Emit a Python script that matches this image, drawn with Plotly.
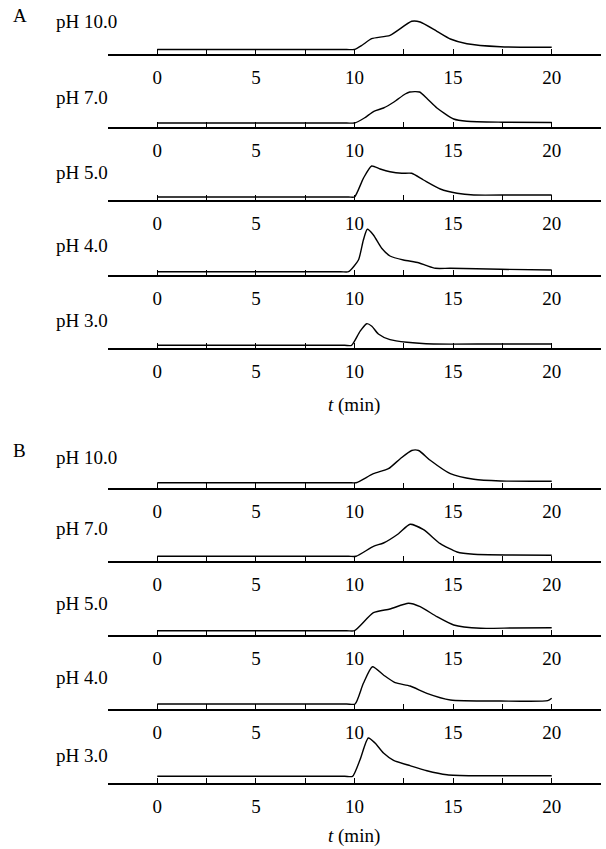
import plotly.graph_objects as go

# ---------------- data (time in min, signal in arbitrary units) ----------------
ph_labels = ["pH 10.0", "pH 7.0", "pH 5.0", "pH 4.0", "pH 3.0"]
tick_values = [-2.5, 0, 2.5, 5, 7.5, 10, 12.5, 15, 17.5, 20, 22.5]
tick_labels = ["", "0", "", "5", "", "10", "", "15", "", "20", ""]

A_ph10_t = [0, 5, 9.6, 10, 10.4, 10.87, 11.8, 12.9, 13.33, 14.18, 14.86, 15.7, 17.4, 20]
A_ph10_y = [4.5, 4.5, 4.5, 4.5, 9, 15.3, 18.7, 32.7, 32, 22.7, 15, 10.3, 7.3, 6.7]
A_ph7_t = [0, 5, 9.6, 10, 10.5, 10.98, 11.47, 12.0, 12.57, 12.8, 13.3, 13.7, 14.18, 15.03, 15.7, 17.5, 20]
A_ph7_y = [4, 4, 4, 4, 9, 15.7, 19, 25, 33, 35, 35, 28, 19, 8, 5.7, 4.8, 4.5]
A_ph5_t = [0, 5, 9.7, 10, 10.45, 10.87, 11.3, 11.8, 12.4, 12.9, 13.5, 14.35, 15.2, 16.05, 18, 20]
A_ph5_y = [3, 3, 3, 3, 21.7, 34, 31, 28.3, 26.7, 26.7, 20, 11, 6.7, 5, 5, 5]
A_ph4_t = [0, 5, 9.3, 9.7, 10.2, 10.45, 10.65, 10.96, 11.38, 11.8, 12.48, 13.25, 13.67, 14.1, 14.86, 17.4, 20]
A_ph4_y = [3.3, 3.3, 3.3, 3.3, 15, 35, 45.7, 40, 26.7, 19, 15, 12.3, 9.3, 6.7, 6.7, 5.7, 5]
A_ph3_t = [0, 5, 9.5, 9.85, 10.28, 10.62, 10.88, 11.21, 11.8, 12.66, 14, 17, 20]
A_ph3_y = [2.7, 2.7, 2.7, 2.7, 16.7, 24.3, 21.7, 14, 8.3, 5.7, 4, 4, 4]

B_ph10_t = [0, 5, 9.7, 10.08, 10.96, 11.72, 12.32, 12.9, 13.25, 13.84, 14.86, 16.05, 17.4, 20]
B_ph10_y = [5.3, 5.3, 5.3, 5.3, 14.3, 19.3, 29.3, 37.5, 37.5, 27.7, 14.3, 8.7, 7, 6.7]
B_ph7_t = [0, 5, 9.7, 10.08, 10.96, 11.47, 12.23, 12.82, 13.5, 14.35, 15.2, 16.05, 18, 20]
B_ph7_y = [4.7, 4.7, 4.7, 4.7, 14.7, 18, 27.3, 36.7, 31.3, 17.3, 9, 6.7, 6, 5.7]
B_ph5_t = [0, 5, 9.6, 10.0, 10.96, 11.8, 12.74, 13.33, 14.18, 15.03, 16.4, 18, 20]
B_ph5_y = [4.3, 4.3, 4.3, 4.3, 22.3, 26, 31.7, 28.3, 18.3, 10, 6.7, 7, 7.3]
B_ph4_t = [0, 5, 9.6, 10.03, 10.45, 10.91, 11.47, 12.06, 12.82, 13.67, 14.86, 17.4, 19.8, 20]
B_ph4_y = [5, 5, 5, 5, 25.7, 42.3, 34, 26.3, 23, 15.7, 9, 8, 8.3, 10.7]
B_ph3_t = [0, 5, 9.5, 9.9, 10.28, 10.7, 11.04, 11.47, 11.98, 12.82, 13.67, 14.69, 16.05, 18, 20]
B_ph3_y = [6.7, 6.7, 6.7, 6.7, 23.3, 45, 40, 30, 22.7, 17.3, 12.3, 8.3, 7.3, 7.3, 7.3]

panel_A = [(A_ph10_t, A_ph10_y), (A_ph7_t, A_ph7_y), (A_ph5_t, A_ph5_y), (A_ph4_t, A_ph4_y), (A_ph3_t, A_ph3_y)]
panel_B = [(B_ph10_t, B_ph10_y), (B_ph7_t, B_ph7_y), (B_ph5_t, B_ph5_y), (B_ph4_t, B_ph4_y), (B_ph3_t, B_ph3_y)]

# ---------------- layout geometry (pixels) ----------------
W, H = 606, 849
axis_px_A = [54, 127, 200, 275, 348]
axis_px_B = [488, 561, 635, 709, 783]
label_px_A = [22, 97, 172, 245, 320]
label_px_B = [458, 528, 603, 677, 755]
plot_h = 50
x_left, x_right = 108, 601
FONT = "Liberation Serif, Times New Roman, serif"

fig = go.Figure()
layout = dict(
    width=W, height=H, margin=dict(l=0, r=0, t=0, b=0),
    paper_bgcolor="white", plot_bgcolor="rgba(0,0,0,0)",
    showlegend=False, font=dict(family=FONT, size=19, color="black"),
)
annotations = []

series = panel_A + panel_B
axes_px = axis_px_A + axis_px_B
labels_px = label_px_A + label_px_B
for i, ((t, y), ya) in enumerate(zip(series, axes_px)):
    n = i + 1
    xa = "x" if n == 1 else f"x{n}"
    yaxn = "y" if n == 1 else f"y{n}"
    fig.add_trace(go.Scatter(x=t, y=y, mode="lines", xaxis=xa, yaxis=yaxn,
                             line=dict(color="black", width=1.4, shape="spline", smoothing=0.6),
                             hoverinfo="skip"))
    layout["xaxis" if n == 1 else f"xaxis{n}"] = dict(
        domain=[x_left / W, x_right / W], range=[-2.5, 22.5],
        anchor=yaxn, showgrid=False, zeroline=False,
        showline=True, linecolor="black", linewidth=1.5,
        ticks="inside", ticklen=5, tickwidth=1.3, tickcolor="black",
        tickvals=tick_values, ticktext=tick_labels,
        tickfont=dict(family=FONT, size=19, color="black"),
        ticklabelstandoff=5,
    )
    layout["yaxis" if n == 1 else f"yaxis{n}"] = dict(
        domain=[1 - ya / H, 1 - (ya - plot_h) / H], range=[0, plot_h],
        anchor=xa, visible=True, showgrid=False, zeroline=False,
        showline=False, ticks="", showticklabels=False,
    )
    annotations.append(dict(text=ph_labels[i % 5], xref="paper", yref="paper",
                            x=54 / W, y=1 - labels_px[i] / H, xanchor="left", yanchor="middle",
                            showarrow=False, font=dict(family=FONT, size=19, color="black")))

for txt, px_y in [("A", 15), ("B", 450)]:
    annotations.append(dict(text=txt, xref="paper", yref="paper", x=11 / W, y=1 - px_y / H,
                            xanchor="left", yanchor="middle", showarrow=False,
                            font=dict(family=FONT, size=19, color="black")))
for px_y in [405, 836]:
    annotations.append(dict(text="<i>t</i> (min)", xref="paper", yref="paper", x=354 / W, y=1 - px_y / H,
                            xanchor="center", yanchor="middle", showarrow=False,
                            font=dict(family=FONT, size=19, color="black")))

layout["annotations"] = annotations
fig.update_layout(**layout)
fig.write_html("out.html")
